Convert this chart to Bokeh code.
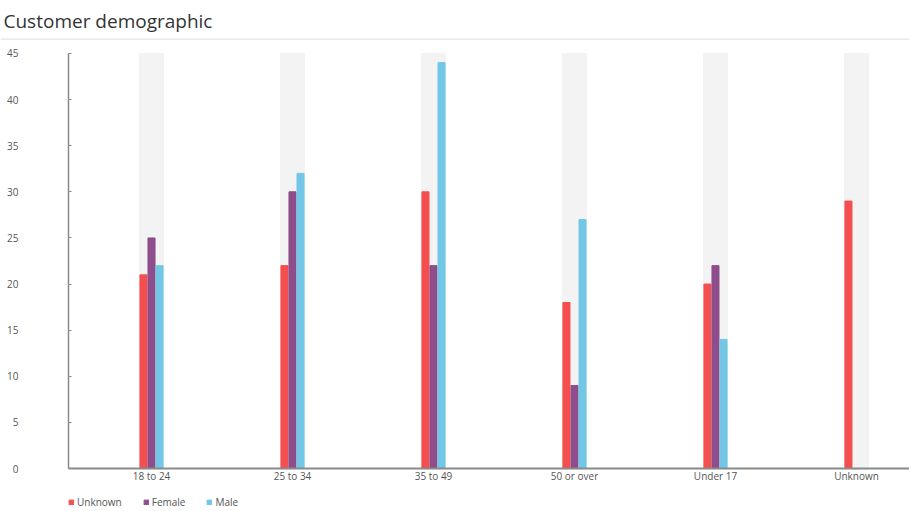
from bokeh.plotting import figure
from bokeh.models import Range1d, FixedTicker, Span, Legend, LegendItem, ColumnDataSource
from bokeh.embed import file_html
from bokeh.resources import INLINE

# ---- data ----
categories = ["18 to 24", "25 to 34", "35 to 49", "50 or over", "Under 17", "Unknown"]
unknown = [21, 22, 30, 18, 20, 29]
female = [25, 30, 22, 9, 22, 0]
male = [22, 32, 44, 27, 14, 0]
series_names = ["Unknown", "Female", "Male"]
y_ticks = [0, 5, 10, 15, 20, 25, 30, 35, 40, 45]

colors = ["#F44E4E", "#8E4E8B", "#72C7E6"]
FONT = "Open Sans"

xs = list(range(len(categories)))
x_start, x_end = -1.071, 5.376
y_axis_x = -0.589
y_top = 46.62
y_bottom = -4.652
p = figure(width=909, height=511, x_range=Range1d(x_start, x_end), y_range=Range1d(y_bottom, y_top),
           toolbar_location=None, output_backend="svg",
           min_border_left=0, min_border_right=0, min_border_top=37, min_border_bottom=0)
p.outline_line_color = None
p.grid.visible = False

p.title.text = "Customer demographic"
p.title.text_font = FONT
p.title.text_font_size = "19px"
p.title.text_font_style = "normal"
p.title.text_color = "#333333"
p.title.offset = 3
p.title.standoff = 10

# separator line under the title
p.add_layout(Span(location=y_top - 0.05, dimension="width", line_color="#D2D2D2", line_width=1))

band_top = [y_ticks[-1]] * len(categories)
p.vbar(x=xs, top=band_top, bottom=0, width=0.17, color="#F3F3F3")

off = 0.057
bw = 0.05
renderers = []
for k, vals in enumerate([unknown, female, male]):
    src = ColumnDataSource(dict(x=[x + (k - 1) * off for x in xs], top=vals))
    r = p.vbar(x="x", top="top", bottom=0, width=bw, color=colors[k], source=src)
    renderers.append(r)

# axes
p.xaxis.fixed_location = 0
p.xaxis.bounds = (y_axis_x, x_end)
p.xaxis.ticker = FixedTicker(ticks=xs)
p.xaxis.major_label_overrides = {i: c for i, c in enumerate(categories)}
p.xaxis.major_tick_in = 0
p.xaxis.major_tick_out = 0
p.xaxis.minor_tick_line_color = None
p.xaxis.axis_line_color = "#8A8A8A"
p.xaxis.axis_line_width = 2
p.xaxis.major_label_standoff = 0
p.xaxis.major_label_text_font = FONT
p.xaxis.major_label_text_font_size = "10px"
p.xaxis.major_label_text_color = "#555555"

p.yaxis.fixed_location = y_axis_x
p.yaxis.ticker = FixedTicker(ticks=y_ticks)
p.yaxis.bounds = (y_ticks[0], y_ticks[-1])
p.yaxis.axis_line_color = "#8A8A8A"
p.yaxis.axis_line_width = 1.5
p.yaxis.major_tick_in = 3
p.yaxis.major_tick_out = 0
p.yaxis.major_tick_line_color = "#8A8A8A"
p.yaxis.minor_tick_line_color = None
p.yaxis.major_label_standoff = 50
p.yaxis.major_label_text_font = FONT
p.yaxis.major_label_text_font_size = "10px"
p.yaxis.major_label_text_color = "#555555"

legend = Legend(items=[LegendItem(label=n, renderers=[r]) for n, r in zip(series_names, renderers)],
                orientation="horizontal", location=(68, 2),
                margin=0, padding=0, spacing=21, label_standoff=3,
                glyph_width=6, glyph_height=6, label_height=10,
                label_text_font=FONT, label_text_font_size="10px", label_text_color="#555555",
                border_line_color=None, background_fill_alpha=0)
p.add_layout(legend, "center")

open("out.html", "w").write(file_html(p, INLINE))
